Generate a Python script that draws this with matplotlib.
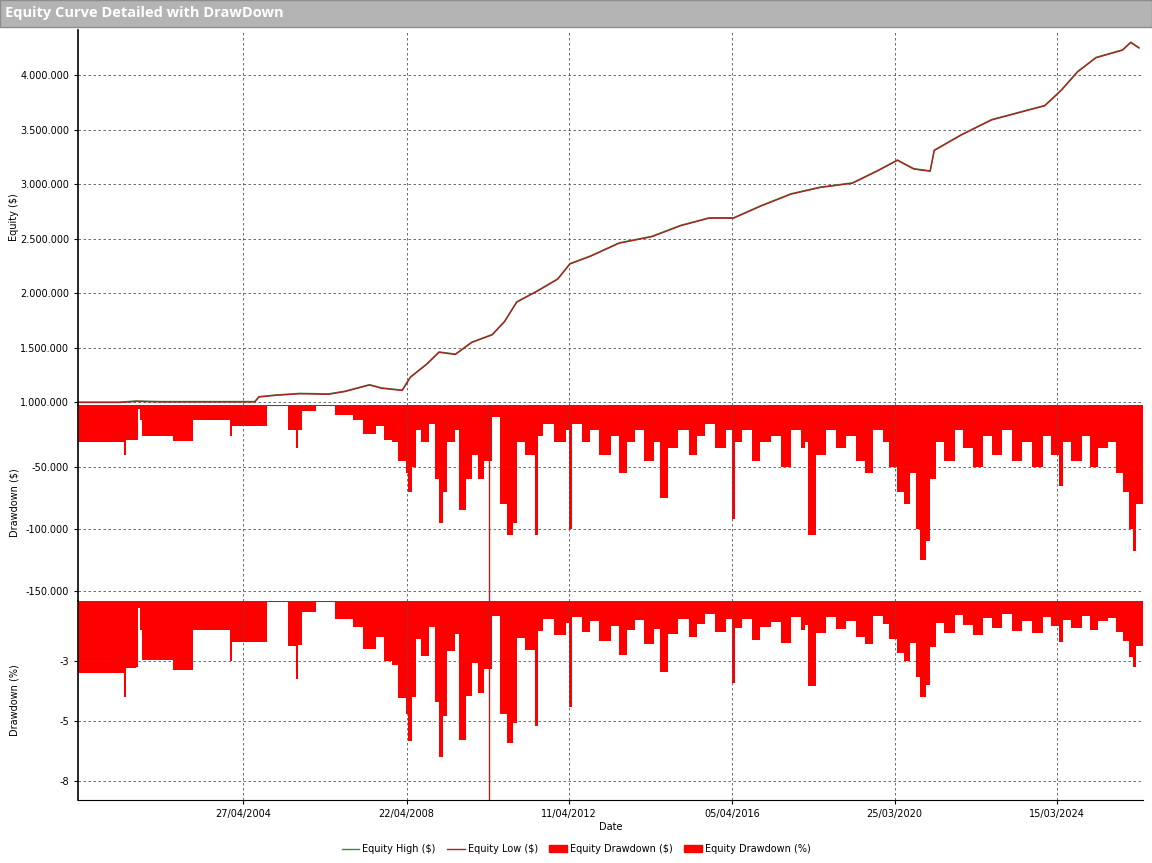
import matplotlib
matplotlib.use("Agg")
import matplotlib.pyplot as plt
import numpy as np
from matplotlib.patches import Patch
from matplotlib.lines import Line2D

# equity curve (decimal year, millions $)
EQ_YEAR = [2000.28, 2001.3, 2001.7, 2002.3, 2003.3, 2004.6, 2004.7, 2005.1, 2005.7, 2006.4,
           2006.8, 2007.4, 2007.7, 2008.2, 2008.4, 2008.8, 2009.1, 2009.5, 2009.9, 2010.4,
           2010.7, 2011.0, 2011.5, 2012.0, 2012.3, 2012.8, 2013.5, 2014.3, 2015.0, 2015.7,
           2016.3, 2016.96, 2017.7, 2018.4, 2019.2, 2019.8, 2020.3, 2020.7, 2021.1, 2021.2,
           2021.85, 2022.6, 2023.3, 2023.9, 2024.3, 2024.7, 2025.15, 2025.8, 2026.0, 2026.2]
EQ_VAL = [1.0, 1.0, 1.01, 1.005, 1.005, 1.005, 1.05, 1.065, 1.08, 1.075,
          1.10, 1.16, 1.13, 1.11, 1.23, 1.35, 1.46, 1.44, 1.55, 1.62,
          1.74, 1.92, 2.02, 2.13, 2.27, 2.34, 2.46, 2.52, 2.62, 2.69,
          2.69, 2.80, 2.91, 2.97, 3.01, 3.12, 3.22, 3.14, 3.12, 3.31,
          3.45, 3.59, 3.66, 3.72, 3.86, 4.03, 4.16, 4.23, 4.30, 4.25]

# drawdown steps (start year, thousands $)
DD_YEAR = [2000.28, 2001.40, 2001.45, 2001.70, 2001.75, 2001.80, 2001.85, 2002.60, 2003.10, 2004.00,
           2004.05, 2004.90, 2005.40, 2005.60, 2005.65, 2005.75, 2006.10, 2006.55, 2007.00, 2007.25,
           2007.55, 2007.75, 2007.95, 2008.10, 2008.30, 2008.35, 2008.45, 2008.55, 2008.65, 2008.85,
           2009.00, 2009.10, 2009.20, 2009.30, 2009.50, 2009.60, 2009.75, 2009.90, 2010.05, 2010.20,
           2010.40, 2010.60, 2010.75, 2010.90, 2011.00, 2011.20, 2011.45, 2011.52, 2011.65, 2011.90,
           2012.20, 2012.27, 2012.35, 2012.60, 2012.80, 2013.00, 2013.30, 2013.50, 2013.70, 2013.90,
           2014.10, 2014.35, 2014.50, 2014.70, 2014.95, 2015.20, 2015.40, 2015.60, 2015.85, 2016.10,
           2016.25, 2016.32, 2016.50, 2016.75, 2016.95, 2017.20, 2017.45, 2017.70, 2017.95, 2018.05,
           2018.12, 2018.30, 2018.55, 2018.80, 2019.05, 2019.30, 2019.50, 2019.70, 2019.95, 2020.10,
           2020.30, 2020.45, 2020.60, 2020.75, 2020.85, 2021.00, 2021.10, 2021.25, 2021.45, 2021.70,
           2021.90, 2022.15, 2022.40, 2022.60, 2022.85, 2023.10, 2023.35, 2023.60, 2023.85, 2024.05,
           2024.25, 2024.35, 2024.55, 2024.80, 2025.00, 2025.20, 2025.45, 2025.65, 2025.80, 2025.95,
           2026.05, 2026.12]
DD_VAL = [-30, -40, -28, -28, -3, -12, -25, -29, -12, -25,
          -17, 0, -20, -35, -20, -5, 0, -8, -12, -23,
          -17, -28, -30, -45, -55, -70, -50, -20, -30, -15,
          -60, -95, -70, -30, -20, -85, -60, -40, -60, -45,
          -10, -80, -105, -95, -30, -40, -105, -25, -15, -30,
          -20, -100, -15, -30, -20, -40, -25, -55, -30, -20,
          -45, -30, -75, -35, -20, -40, -25, -15, -35, -20,
          -92, -30, -20, -45, -30, -25, -50, -20, -35, -30,
          -105, -40, -20, -35, -25, -45, -55, -20, -30, -50,
          -70, -80, -55, -100, -125, -110, -60, -30, -45, -20,
          -35, -50, -25, -40, -20, -45, -30, -50, -25, -40,
          -65, -30, -45, -25, -50, -35, -30, -55, -70, -100,
          -118, -80]

GLITCH_YEAR = 2010.33

XTICKS = [2004.32, 2008.31, 2012.28, 2016.26, 2020.23, 2024.20]
XLABELS = ["27/04/2004", "22/04/2008", "11/04/2012", "05/04/2016", "25/03/2020", "15/03/2024"]

XMIN, XMAX = 2000.28, 2026.3
RED = "#ff0000"
LINE_RED = "#b02020"

dd_year = np.array(DD_YEAR + [XMAX])
dd_val = np.array(DD_VAL + [DD_VAL[-1]]) * 1000.0
eq_at_dd = np.interp(dd_year, EQ_YEAR, EQ_VAL) * 1e6
dd_pct = dd_val / eq_at_dd * 100.0


def dotted(v, _pos=None):
    return f"{v:,.0f}".replace(",", ".")


fig = plt.figure(figsize=(11.52, 8.63), dpi=100)
fig.patch.set_facecolor("white")
fig.patches.append(plt.Rectangle((0, 1 - 27 / 863), 1, 27 / 863, transform=fig.transFigure,
                                 facecolor="#b4b4b4", edgecolor="#8c8c8c", lw=1))
fig.text(0.004, 1 - 13 / 863, "Equity Curve Detailed with DrawDown", color="white",
         fontsize=10.5, fontweight="bold", va="center", family="Open Sans")

L, W = 78 / 1152, (1143 - 78) / 1152
ax1 = fig.add_axes([L, 1 - 405 / 863, W, 375 / 863])
ax2 = fig.add_axes([L, 1 - 601 / 863, W, 196 / 863])
ax3 = fig.add_axes([L, 1 - 800 / 863, W, 199 / 863])

ax1.plot(EQ_YEAR, np.array(EQ_VAL) * 1e6 + 4000, color="#3a8a3a", lw=1)
ax1.plot(EQ_YEAR, np.array(EQ_VAL) * 1e6, color=LINE_RED, lw=1)
ax1.set_ylim(0.977e6, 4.415e6)
ax1.set_yticks([1e6, 1.5e6, 2e6, 2.5e6, 3e6, 3.5e6, 4e6])
ax1.set_yticklabels([dotted(v) for v in ax1.get_yticks()])
ax1.set_ylabel("Equity ($)", fontsize=7)

ax2.fill_between(dd_year, dd_val, 0, step="post", color=RED, lw=0)
ax2.vlines(GLITCH_YEAR, -160000, 0, color=LINE_RED, lw=1)
ax2.axhline(0, color=LINE_RED, lw=1.5)
ax2.set_ylim(-158000, 0)
ax2.set_yticks([-150000, -100000, -50000])
ax2.set_yticklabels([dotted(v) for v in ax2.get_yticks()])
ax2.set_ylabel("Drawdown ($)", fontsize=7)

ax3.fill_between(dd_year, dd_pct, 0, step="post", color=RED, lw=0)
ax3.vlines(GLITCH_YEAR, -9, 0, color=LINE_RED, lw=1)
ax3.axhline(0, color=LINE_RED, lw=1.5)
ax3.set_ylim(-8.3, 0)
ax3.set_yticks([-2.5, -5, -7.5])
ax3.set_yticklabels(["-3", "-5", "-8"])
ax3.set_ylabel("Drawdown (%)", fontsize=7)
ax3.set_xlabel("Date", fontsize=7, labelpad=2)

for ax in (ax1, ax2, ax3):
    ax.set_xlim(XMIN, XMAX)
    ax.set_xticks(XTICKS)
    ax.grid(True, color="#555555", ls=(0, (3, 3)), lw=0.6)
    ax.tick_params(labelsize=7, length=3)
    for s in ("top", "right"):
        ax.spines[s].set_visible(False)
    ax.spines["left"].set_linewidth(1.2)
    ax.yaxis.set_label_coords(-0.055, 0.5)
for ax in (ax1, ax2):
    ax.tick_params(axis="x", labelbottom=False, length=0)
    ax.spines["bottom"].set_visible(False)
ax3.set_xticklabels(XLABELS)

handles = [Line2D([], [], color="#3a8a3a", lw=1), Line2D([], [], color=LINE_RED, lw=1),
           Patch(color=RED), Patch(color=RED)]
fig.legend(handles, ["Equity High ($)", "Equity Low ($)", "Equity Drawdown ($)", "Equity Drawdown (%)"],
           loc="lower center", bbox_to_anchor=(0.5, 0.0), ncol=4, frameon=False, fontsize=7,
           handlelength=1.8, handletextpad=0.3, columnspacing=1.2)

fig.savefig("out.png", dpi=100)
